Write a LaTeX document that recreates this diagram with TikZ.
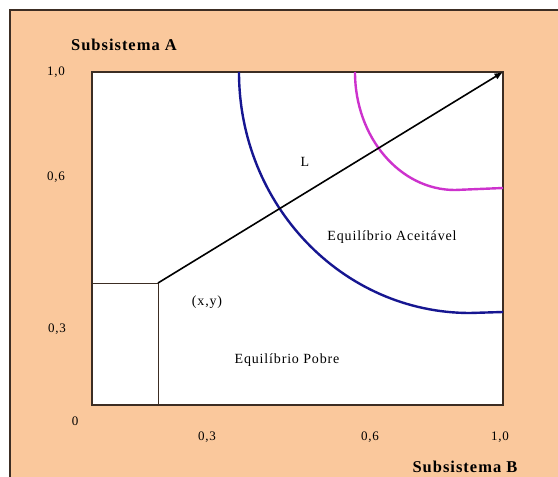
\documentclass[tikz,border=0pt]{standalone}
\usepackage{fontspec}
\setmainfont[LetterSpace=6]{Liberation Serif}
\usetikzlibrary{arrows.meta}
\definecolor{peach}{RGB}{250,200,156}
\definecolor{frameline}{RGB}{60,45,35}
\definecolor{curveblue}{RGB}{22,22,145}
\definecolor{curvemag}{RGB}{205,50,205}
\tikzset{lbl/.style={font=\fontsize{14}{14}\selectfont,inner sep=1pt},
  tick/.style={font=\fontsize{13}{13}\selectfont,inner sep=1pt},
  axtitle/.style={font=\bfseries\fontsize{16.5}{16.5}\selectfont,inner sep=1pt},
  curve/.style={line width=2.4pt},
  arrow/.style={-{Latex[length=3mm,width=2.4mm]},line width=1.6pt}}
\begin{document}
\begin{tikzpicture}[x=1pt,y=-1pt]
\useasboundingbox (0,0) rectangle (558,477);
\clip (0,0) rectangle (558,477);
% background panel and plot area
\draw[frameline,line width=1.3pt,fill=peach] (10,10) rectangle (570,490);
\draw[frameline,line width=1.3pt,fill=white] (92,72) rectangle (503,405);
\coordinate (xy) at (158,283);
\coordinate (yleft) at (92,283);
\coordinate (xbot) at (158,405);
\coordinate (corner) at (503,72);
\draw[frameline,line width=0.9pt] (yleft) -- (xy) -- (xbot);
% equilibrium curves
\draw[curve,curveblue] (239,72) arc[start angle=180,end angle=270,x radius=231pt,y radius=241pt] -- (503,312);
\draw[curve,curvemag] (355,72) arc[start angle=180,end angle=270,x radius=100pt,y radius=118pt] -- (503,188);
\draw[arrow] (xy) -- (corner);
% labels
\node[axtitle] (suba) at (124,45) {Subsistema A};
\node[axtitle] (subb) at (465,467) {Subsistema B};
\node[tick] (ya) at (56,72) {1,0};
\node[tick] (yb) at (56,177) {0,6};
\node[tick] (yc) at (57,329) {0,3};
\node[tick] (orig) at (75,421) {0};
\node[tick] (xa) at (207,437) {0,3};
\node[tick] (xb) at (370,437) {0,6};
\node[tick] (xc) at (500,437) {1,0};
\node[lbl] (lname) at (305,162) {L};
\node[lbl] (acc) at (392,237) {Equilíbrio Aceitável};
\node[lbl] (pxy) at (207,302) {(x,y)};
\node[lbl] (poor) at (287,360) {Equilíbrio Pobre};
\end{tikzpicture}
\end{document}
